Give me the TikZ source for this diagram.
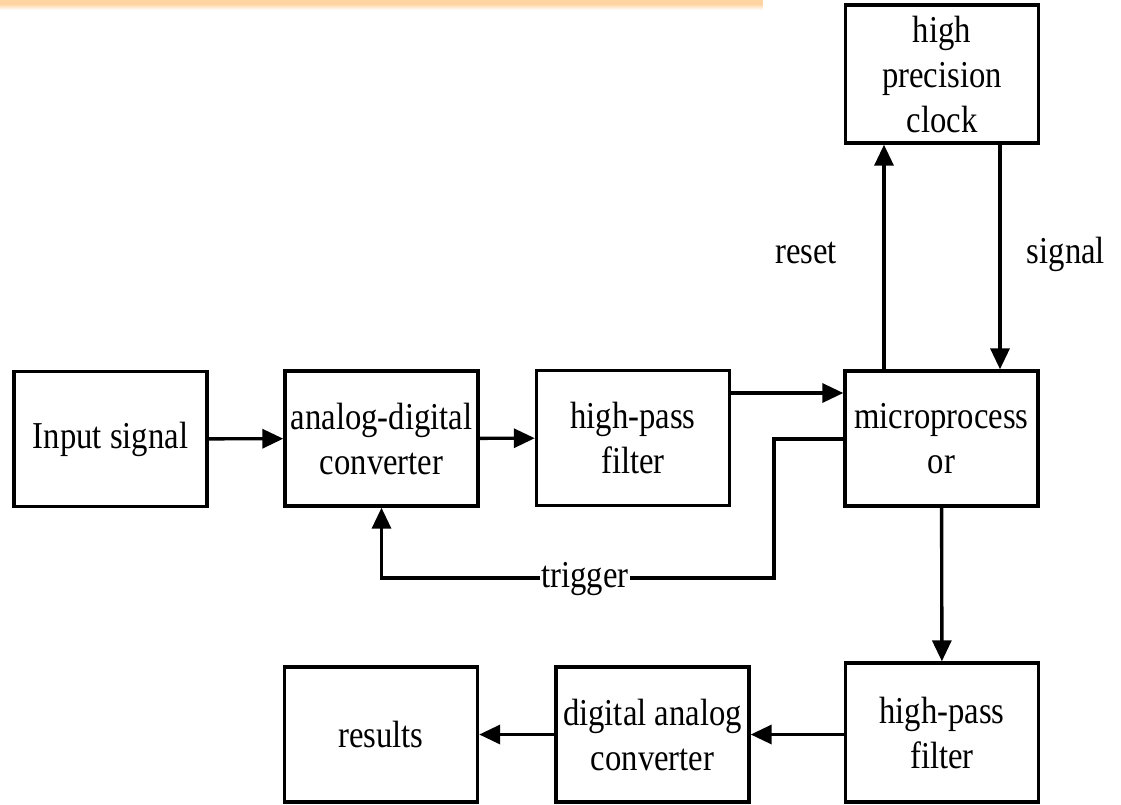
\documentclass[tikz,border=0pt]{standalone}
\usepackage{fontspec}
\setmainfont[FakeStretch=0.86]{Liberation Serif}
\usetikzlibrary{arrows.meta}
\definecolor{bandorange}{HTML}{FFD4A3}
\tikzset{
  blk/.style={draw=black, line width=3.4pt, minimum width=193pt, minimum height=135pt,
              inner sep=2pt, align=center, font=\fontsize{38}{45}\selectfont},
  arr/.style={line width=3.4pt, -{Triangle[length=21pt,width=19pt]}},
  lbl/.style={font=\fontsize{38}{45}\selectfont, inner sep=1pt},
}
\begin{document}
\begin{tikzpicture}[x=1pt,y=-1pt]
\useasboundingbox (0,0) rectangle (1121,804);
% thin orange band along the top edge
\fill[bandorange] (0,0) rectangle (763,4);
\shade[top color=bandorange, bottom color=white] (0,4) rectangle (763,10);

% blocks
\node[blk] (inp)  at (110.5,439) {Input signal};
\node[blk] (adc)  at (381.5,438.5) {analog-digital\\converter};
\node[blk] (hpf1) at (633,438) {high-pass\\filter};
\node[blk] (mcu)  at (941.5,438.5) {microprocess\\or};
\node[blk, minimum height=138pt] (clk) at (942,74) {high\\precision\\clock};
\node[blk, minimum height=139pt] (hpf2) at (942,732.5) {high-pass\\filter};
\node[blk] (dac)  at (652.5,734.5) {digital analog\\converter};
\node[blk] (res)  at (381,734.5) {results};

% routing coordinates
\coordinate (rowA) at (0,393);
\coordinate (colR) at (884,0);
\coordinate (colS) at (1000,0);
\coordinate (trgV) at (774,439);
\coordinate (trgL) at (774,578);

% main signal path
\draw[arr] (inp) -- (adc);
\draw[arr] (adc) -- (hpf1);
\draw[arr] (hpf1.east |- rowA) -- (mcu.west |- rowA);
\draw[arr] (mcu) -- (hpf2);
\draw[arr] (hpf2.west |- dac) -- (dac.east);
\draw[arr] (dac) -- (res);

% clock loop
\draw[arr] (mcu.north -| colR) -- (clk.south -| colR);
\draw[arr] (clk.south -| colS) -- (mcu.north -| colS);
\node[lbl, anchor=base] (rlab) at (806,263) {reset};
\node[lbl, anchor=base] (slab) at (1066,263) {signal};

% trigger feedback
\draw[arr, line join=miter] (mcu.west |- trgV) -- (trgV) -- (trgL) -- (adc.south |- trgL) -- (adc.south);
\node[lbl, anchor=base, fill=white] (tlab) at (585,587) {trigger};
\end{tikzpicture}
\end{document}
